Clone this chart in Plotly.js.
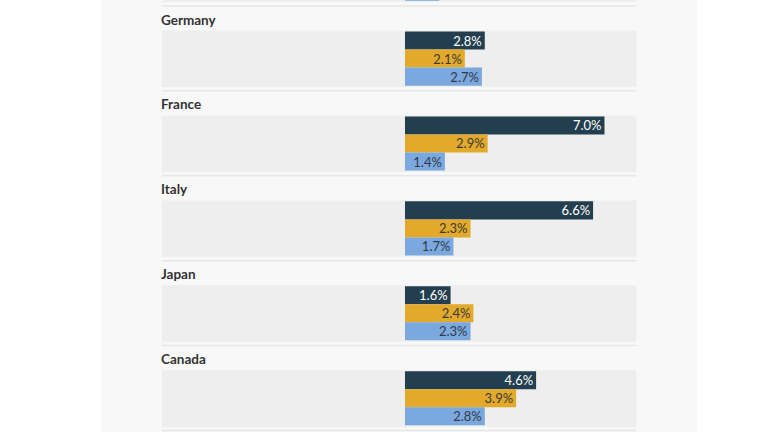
<!DOCTYPE html>
<html><head><meta charset="utf-8">
<script src="https://cdn.plot.ly/plotly-3.0.1.min.js"></script>
<style>html,body{margin:0;padding:0;background:#fff;}#chart{width:768px;height:432px;}</style>
</head><body><div id="chart"></div>
<script>
const countries = ["United States", "Germany", "France", "Italy", "Japan", "Canada"];
const seriesA = [null, 2.8, 7.0, 6.6, 1.6, 4.6];
const seriesB = [null, 2.1, 2.9, 2.3, 2.4, 3.9];
const seriesC = [1.2, 2.7, 1.4, 1.7, 2.3, 2.8];
const seriesNames = ["Series A", "Series B", "Series C"];
const colors = ["#233f4f", "#e3a92b", "#7ba8de"];
const textColors = ["#ffffff", "#3a3a3a", "#2f3b4a"];

const bandLeft = -8.53, bandRight = 8.12;
const FONT = "Lato, 'Open Sans', sans-serif";

// first category is cut off at the top edge of the picture, so its value labels are not drawn
const traces = [seriesA, seriesB, seriesC].map((vals, k) => ({
  type: "bar", orientation: "h", name: seriesNames[k],
  y: countries, x: vals,
  marker: {color: colors[k], line: {width: 0}},
  text: vals.map((v, i) => (v == null || i === 0) ? "" : v.toFixed(1) + "%"),
  textposition: "inside", insidetextanchor: "end",
  constraintext: "none",
  textfont: {family: FONT, size: 13, color: textColors[k]},
  hoverinfo: "skip", cliponaxis: true
}));

const shapes = [
  {type: "rect", xref: "paper", yref: "paper", x0: 101/768, x1: 697/768, y0: 0, y1: 1,
   fillcolor: "#f8f8f8", line: {width: 0}, layer: "below"}
];
const annotations = [];
countries.forEach((c, i) => {
  shapes.push({type: "rect", xref: "x", yref: "y", x0: bandLeft, x1: bandRight,
    y0: i - 0.33, y1: i + 0.335, fillcolor: "#eeeeee", line: {width: 0}, layer: "below"});
  shapes.push({type: "line", xref: "x", yref: "y", x0: bandLeft, x1: bandRight,
    y0: i + 0.38, y1: i + 0.38, line: {color: "#e6e6e6", width: 1.5}, layer: "below"});
  if (i > 0) annotations.push({xref: "x", yref: "y", x: bandLeft, y: i, xanchor: "left", yanchor: "middle",
    yshift: 39, xshift: -3, text: "<b>" + c + "</b>", showarrow: false,
    font: {family: FONT, size: 13.5, color: "#333333"}});
});

const layout = {
  width: 768, height: 432,
  margin: {l: 0, r: 0, t: 0, b: 0},
  paper_bgcolor: "#ffffff", plot_bgcolor: "rgba(0,0,0,0)",
  barmode: "group", bargap: 0.363, bargroupgap: 0,
  showlegend: false,
  xaxis: {range: [-14.21, 12.737], visible: false, fixedrange: true},
  yaxis: {type: "category", categoryorder: "array", categoryarray: countries,
    range: [5.398, 0.31], visible: false, fixedrange: true},
  shapes: shapes, annotations: annotations,
  font: {family: FONT}
};
Plotly.newPlot("chart", traces, layout, {displayModeBar: false, staticPlot: true});
</script></body></html>
